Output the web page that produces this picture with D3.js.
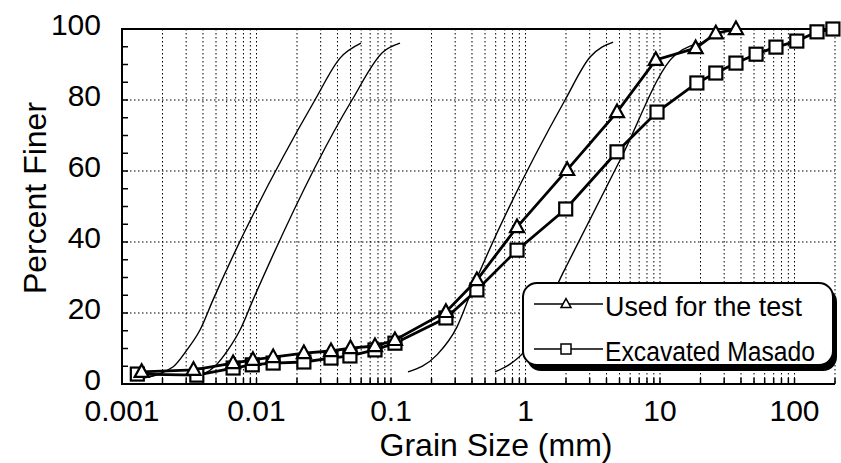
<!DOCTYPE html>
<html>
<head>
<meta charset="utf-8">
<script src="https://cdn.jsdelivr.net/npm/d3@7"></script>
<style>
  body { margin: 0; background: #fff; }
  svg { display: block; font-family: 'Liberation Sans', Arial, sans-serif; }
</style>
</head>
<body>
<svg width="841" height="463"></svg>
<script>
// grain size distribution
var xTicks = [0.001, 0.01, 0.1, 1, 10, 100];
var xTickLabels = ['0.001', '0.01', '0.1', '1', '10', '100'];
var yTicks = [0, 20, 40, 60, 80, 100];

var testSize = [0.0014, 0.0034, 0.0067, 0.0094, 0.0133, 0.0225, 0.0358, 0.050, 0.076, 0.107, 0.256, 0.435, 0.865, 2.04, 4.79, 9.3, 18.4, 26, 36.7];
var testFiner = [3.4, 4.0, 5.9, 6.8, 7.6, 8.7, 9.3, 10.1, 10.7, 12.4, 20.3, 29.3, 44.2, 60.3, 76.6, 91.3, 94.6, 98.8, 100];

var masadoSize = [0.0013, 0.0036, 0.0067, 0.0093, 0.0133, 0.0225, 0.0358, 0.0495, 0.076, 0.107, 0.256, 0.435, 0.865, 1.99, 4.79, 9.5, 18.8, 26, 36.7, 51.8, 72.8, 104, 147, 193];
var masadoFiner = [2.8, 2.5, 4.5, 5.4, 5.9, 6.2, 7.3, 7.9, 9.6, 11.5, 18.6, 26.5, 37.7, 49.3, 65.4, 76.6, 84.8, 87.6, 90.4, 92.9, 94.9, 96.6, 99.2, 100];

// thin reference curves (no markers)
var curveASize = [0.00135, 0.00239, 0.00304, 0.0038, 0.00475, 0.0272, 0.0418, 0.0598];
var curveAFiner = [1.5, 4.8, 9.6, 15.2, 23.7, 80, 91.8, 96];
var curveBSize = [0.0033, 0.00491, 0.00614, 0.00754, 0.00942, 0.0513, 0.0872, 0.1167];
var curveBFiner = [1.8, 5, 9.6, 15.2, 23.7, 80, 93.5, 96];
var curveCSize = [0.1337, 0.2196, 0.3097, 0.400, 1.968, 3.02, 4.48];
var curveCFiner = [3.4, 8.2, 16.1, 26.5, 80, 92.1, 96.3];
var curveDSize = [0.593, 0.767, 0.957, 1.90, 5.05, 12.94, 21.6];
var curveDFiner = [3.4, 5.6, 8.7, 31.3, 63.1, 92.7, 96.3];

var svg = d3.select('svg');

var plotLeft = 122, plotRight = 835, plotTop = 29, plotBottom = 384;

var x = d3.scaleLog().domain([0.001, 200]).range([plotLeft, plotRight]);
var y = d3.scaleLinear().domain([0, 100]).range([plotBottom, plotTop]);

var zip = function (xs, ys) {
  return xs.map(function (v, i) { return [v, ys[i]]; });
};

var line = d3.line()
  .x(function (d) { return x(d[0]); })
  .y(function (d) { return y(d[1]); });

var smooth = d3.line()
  .curve(d3.curveMonotoneX)
  .x(function (d) { return x(d[0]); })
  .y(function (d) { return y(d[1]); });

// minor log grid values
var gridVals = [];
for (var e = -3; e <= 2; e++) {
  for (var m = 1; m <= 9; m++) {
    var v = m * Math.pow(10, e);
    if (v > 0.001 && v <= 200.0001) gridVals.push(v);
  }
}

var grid = svg.append('g').attr('class', 'grid')
  .attr('stroke', '#000').attr('stroke-width', 1)
  .attr('stroke-dasharray', '1.5,2.5');

grid.selectAll('line.v').data(gridVals).enter().append('line')
  .attr('class', 'v')
  .attr('x1', function (d) { return x(d); }).attr('x2', function (d) { return x(d); })
  .attr('y1', plotTop).attr('y2', plotBottom);

grid.selectAll('line.h').data([20, 40, 60, 80]).enter().append('line')
  .attr('class', 'h')
  .attr('x1', plotLeft).attr('x2', plotRight)
  .attr('y1', function (d) { return y(d); }).attr('y2', function (d) { return y(d); });

// frame: left, top, bottom solid
svg.append('path')
  .attr('d', 'M' + plotRight + ',' + plotTop + 'H' + plotLeft + 'V' + plotBottom + 'H' + plotRight)
  .attr('fill', 'none').attr('stroke', '#000').attr('stroke-width', 2);

// inward ticks
var yMinor = d3.range(0, 101, 5);
svg.append('g').selectAll('line').data(yMinor).enter().append('line')
  .attr('x1', plotLeft).attr('x2', plotLeft + 6)
  .attr('y1', function (d) { return y(d); }).attr('y2', function (d) { return y(d); })
  .attr('stroke', '#000').attr('stroke-width', 1.5);

svg.append('g').selectAll('line').data(gridVals).enter().append('line')
  .attr('x1', function (d) { return x(d); }).attr('x2', function (d) { return x(d); })
  .attr('y1', plotBottom).attr('y2', plotBottom - 6)
  .attr('stroke', '#000').attr('stroke-width', 1.5);

// tick labels
svg.append('g').selectAll('text').data(yTicks).enter().append('text')
  .attr('x', 101).attr('y', function (d) { return y(d) + 6; })
  .attr('text-anchor', 'end').attr('font-size', 30)
  .text(function (d) { return d; });

svg.append('g').selectAll('text').data(xTicks).enter().append('text')
  .attr('x', function (d) { return x(d); }).attr('y', 421)
  .attr('text-anchor', 'middle').attr('font-size', 30)
  .text(function (d, i) { return xTickLabels[i]; });

// axis titles
svg.append('text')
  .attr('transform', 'translate(46,198) rotate(-90)')
  .attr('text-anchor', 'middle').attr('font-size', 32)
  .text('Percent Finer');

svg.append('text')
  .attr('x', 496).attr('y', 456)
  .attr('text-anchor', 'middle').attr('font-size', 32)
  .text('Grain Size (mm)');

// thin curves
[[curveASize, curveAFiner], [curveBSize, curveBFiner], [curveCSize, curveCFiner], [curveDSize, curveDFiner]]
  .forEach(function (c) {
    svg.append('path')
      .attr('d', smooth(zip(c[0], c[1])))
      .attr('fill', 'none').attr('stroke', '#000').attr('stroke-width', 1.4);
  });

var triPath = function (cx, cy, s) {
  var h = s * 0.9;
  return 'M' + cx + ',' + (cy - h * 0.6) + 'L' + (cx + s / 2) + ',' + (cy + h * 0.4) +
    'L' + (cx - s / 2) + ',' + (cy + h * 0.4) + 'Z';
};

var drawSeries = function (sizes, finer, kind) {
  var pts = zip(sizes, finer);
  svg.append('path').attr('d', line(pts))
    .attr('fill', 'none').attr('stroke', '#000').attr('stroke-width', 2.8);
  var g = svg.append('g');
  if (kind === 'tri') {
    g.selectAll('path').data(pts).enter().append('path')
      .attr('d', function (d) { return triPath(x(d[0]), y(d[1]), 14); })
      .attr('fill', '#fff').attr('stroke', '#000').attr('stroke-width', 2.2);
  } else {
    g.selectAll('rect').data(pts).enter().append('rect')
      .attr('x', function (d) { return x(d[0]) - 6.5; })
      .attr('y', function (d) { return y(d[1]) - 6.5; })
      .attr('width', 13).attr('height', 13)
      .attr('fill', '#fff').attr('stroke', '#000').attr('stroke-width', 2.2);
  }
};

drawSeries(masadoSize, masadoFiner, 'sq');
drawSeries(testSize, testFiner, 'tri');

// legend with drop shadow
var legend = svg.append('g');
legend.append('rect')
  .attr('x', 527).attr('y', 288).attr('width', 310).attr('height', 83)
  .attr('rx', 14).attr('fill', '#000');
legend.append('rect')
  .attr('x', 523).attr('y', 283).attr('width', 310).attr('height', 82)
  .attr('rx', 14).attr('fill', '#fff').attr('stroke', '#000').attr('stroke-width', 2);

var legendItems = ['Used for the test', 'Excavated Masado'];
var legendKinds = ['tri', 'sq'];
var legendWidths = [197, 210];
legendItems.forEach(function (name, i) {
  var ly = i === 0 ? 304 : 349;
  legend.append('line')
    .attr('x1', 534).attr('x2', 603).attr('y1', ly).attr('y2', ly)
    .attr('stroke', '#000').attr('stroke-width', 1.5);
  if (legendKinds[i] === 'tri') {
    legend.append('path').attr('d', triPath(566, ly, 10))
      .attr('fill', '#fff').attr('stroke', '#000').attr('stroke-width', 1.5);
  } else {
    legend.append('rect').attr('x', 561).attr('y', ly - 5).attr('width', 10).attr('height', 10)
      .attr('fill', '#fff').attr('stroke', '#000').attr('stroke-width', 1.5);
  }
  legend.append('text')
    .attr('x', 605).attr('y', ly + 12)
    .attr('font-size', 27)
    .attr('textLength', legendWidths[i]).attr('lengthAdjust', 'spacingAndGlyphs')
    .text(name);
});
</script>
</body>
</html>
